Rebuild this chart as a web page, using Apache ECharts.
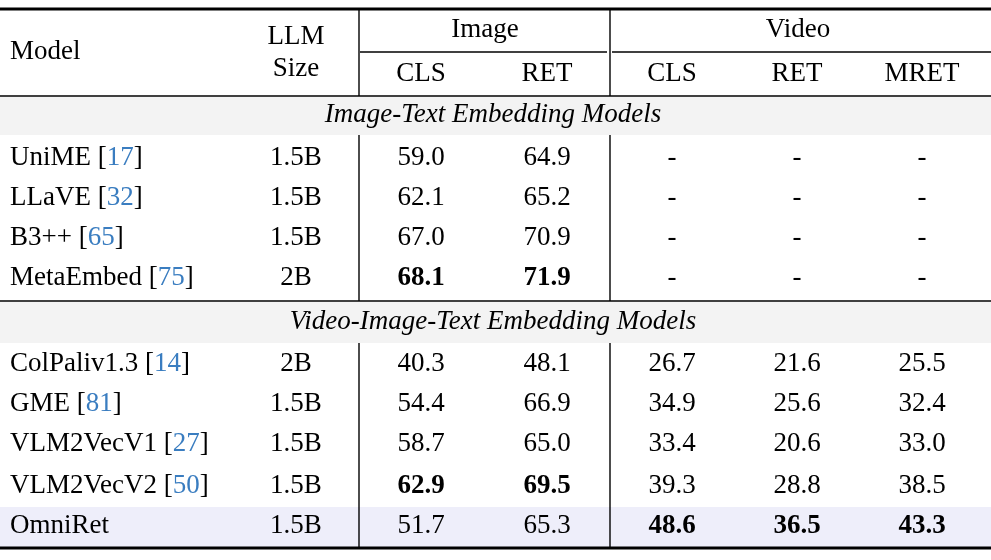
<!DOCTYPE html><html><head><meta charset="utf-8"><script src="https://cdn.jsdelivr.net/npm/echarts@6/dist/echarts.min.js"></script>
<style>html,body{margin:0;padding:0;background:#fff}#c{width:991px;height:560px}</style></head><body><div id="c"></div><script>
const models=["UniME","LLaVE","B3++","MetaEmbed","ColPaliv1.3","GME","VLM2VecV1","VLM2VecV2","OmniRet"];
const cites=["17","32","65","75","14","81","27","50",""];
const sizes=["1.5B","1.5B","1.5B","2B","2B","1.5B","1.5B","1.5B","1.5B"];
const imgCLS=["59.0","62.1","67.0","68.1","40.3","54.4","58.7","62.9","51.7"];
const imgRET=["64.9","65.2","70.9","71.9","48.1","66.9","65.0","69.5","65.3"];
const vidCLS=["-","-","-","-","26.7","34.9","33.4","39.3","48.6"];
const vidRET=["-","-","-","-","21.6","25.6","20.6","28.8","36.5"];
const vidMRET=["-","-","-","-","25.5","32.4","33.0","38.5","43.3"];
const boldCells=[[3,0],[3,1],[7,0],[7,1],[8,2],[8,3],[8,4]];
const groups=["Image-Text Embedding Models","Video-Image-Text Embedding Models"];
const subHeads=["CLS","RET","CLS","RET","MRET"];

const FONT="Liberation Serif",FS=27;
const colX=[421,547,672,797,922];
const rowY=[158,198,238,278,364,404,444,486,526];
const pts=[];
function add(x,y,text,opt){pts.push(Object.assign({value:[x,y],label:Object.assign({show:true,formatter:text,position:'inside',fontFamily:FONT,fontSize:FS,color:'#000',textBorderWidth:0,opacity:1},opt||{})}));}
add(10,52,"Model",{align:'left'});
add(296,37,"LLM");add(296,69,"Size");
add(485,30,"Image");add(798,30,"Video");
subHeads.forEach((s,i)=>add(colX[i],74,s));
add(493,115,groups[0],{fontStyle:'italic'});
add(493,322,groups[1],{fontStyle:'italic'});
const cols=[imgCLS,imgRET,vidCLS,vidRET,vidMRET];
models.forEach((m,r)=>{
  const t=cites[r]?m+" [{c|"+cites[r]+"}]":m;
  add(10,rowY[r],t,{align:'left',rich:{c:{color:'#3a7dc0',fontFamily:FONT,fontSize:FS}}});
  add(296,rowY[r],sizes[r]);
  cols.forEach((c,i)=>{const b=boldCells.some(p=>p[0]===r&&p[1]===i);add(colX[i],rowY[r],c[r],b?{fontWeight:'bold'}:{});});
});
const ch=echarts.init(document.getElementById('c'));
const L=(x1,y1,x2,y2,w)=>({type:'line',shape:{x1,y1,x2,y2},style:{stroke:'#000',lineWidth:w||1.4}});
const R=(y,h,c)=>({type:'rect',shape:{x:0,y,width:991,height:h},style:{fill:c},z:-10});
ch.setOption({animation:false,
 grid:{left:0,right:0,top:0,bottom:0},
 xAxis:{type:'value',min:0,max:991,show:false},
 yAxis:{type:'value',min:0,max:560,inverse:true,show:false},
 graphic:[R(97,38,'#f3f3f3'),R(302,41,'#f3f3f3'),R(507,40,'#eeeefa'),
  L(0,9,991,9,3),L(0,96,991,96,1.5),L(0,301,991,301,1.5),L(0,548,991,548,3),
  L(360,52,607,52,1.3),L(612,52,991,52,1.3),
  L(359,10,359,96),L(610,10,610,96),
  L(359,135,359,301),L(610,135,610,301),
  L(359,343,359,547),L(610,343,610,547)],
 series:[{type:'scatter',symbolSize:0,data:pts,silent:true,itemStyle:{opacity:1}}]
});
</script></body></html>
